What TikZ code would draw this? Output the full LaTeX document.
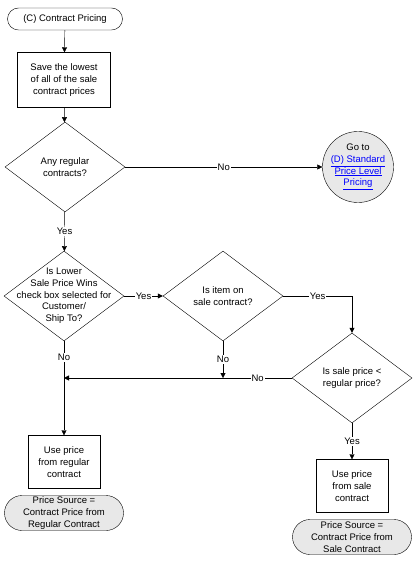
\documentclass[tikz,border=0pt]{standalone}
\usepackage{fontspec}
\setmainfont{Liberation Sans}
\usetikzlibrary{arrows.meta,shapes.geometric,shapes.misc}

\begin{document}
\begin{tikzpicture}[x=1pt, y=-1pt,
  every node/.style={font=\fontsize{9.5}{11.7}\selectfont},
  term/.style={draw, rounded rectangle, align=center, inner sep=0pt},
  srcbox/.style={term, fill=gray!18, minimum width=119pt, minimum height=35pt},
  proc/.style={draw, fill=white, align=center, inner sep=0pt},
  dec/.style={draw, diamond, inner sep=0pt, minimum width=120pt, minimum height=90pt},
  gotolink/.style={draw, circle, fill=gray!18, minimum size=71pt, inner sep=0pt, align=center},
  arr/.style={-{Triangle[length=5pt,width=5pt]}},
  lbl/.style={fill=white, inner sep=1pt}]
  %%%%% START %%%%%
  \useasboundingbox (0,0) rectangle (418,561);

  \node[term, minimum width=115pt, minimum height=22pt] (start) at (65,19) {(C) Contract Pricing};
  \node[proc, minimum width=93pt, minimum height=55pt] (savelowest) at (64,80)
    {Save the lowest\\of all of the sale\\contract prices};
  \node[dec, label={[align=center]center:Any regular\\contracts?}] (anyregular) at (65,167) {};
  \node[gotolink] (gotod) at (358,167)
    {Go to\\\textcolor{blue}{\underline{(D) Standard}}\\\textcolor{blue}{\underline{Price Level}}\\\textcolor{blue}{\underline{Pricing}}};

  \node[dec, label={[align=center]center:Is Lower\\Sale Price Wins\\check box selected for\\Customer/\\Ship To?}] (lowerwins) at (64,296) {};
  \node[dec, label={[align=center]center:Is item on\\sale contract?}] (onsale) at (223,296) {};
  \node[dec, label={[align=center]center:Is sale price <\\regular price?}] (salelower) at (352,378) {};

  \node[proc, minimum width=72pt, minimum height=53pt] (useregular) at (64,462) {Use price\\from regular\\contract};
  \node[srcbox] (srcregular) at (64,513) {Price Source =\\Contract Price from\\Regular Contract};
  \node[proc, minimum width=72pt, minimum height=53pt] (usesale) at (352,486) {Use price\\from sale\\contract};
  \node[srcbox] (srcsale) at (352,537) {Price Source =\\Contract Price from\\Sale Contract};

  \coordinate (joinsale) at (onsale.south |- salelower.west);
  \coordinate (joinregular) at (lowerwins.south |- salelower.west);

  %%%%% connectors %%%%%
  \draw[arr] (start) -- (savelowest);
  \draw[arr] (savelowest) -- (anyregular);
  \draw[arr] (anyregular) -- node[lbl]{No} (gotod);
  \draw[arr] (anyregular) -- node[lbl]{Yes} (lowerwins);
  \draw[arr] (lowerwins) -- node[lbl]{Yes} (onsale);
  \draw[arr] (onsale.east) -| node[lbl, pos=0.25]{Yes} (salelower.north);
  \draw[arr] (onsale) -- node[lbl]{No} (joinsale);
  \draw[arr] (salelower) -- node[lbl, pos=0.15]{No} (joinregular);
  \draw[arr] (lowerwins) -- node[lbl, pos=0.17]{No} (useregular);
  \draw[arr] (salelower) -- node[lbl]{Yes} (usesale);
  %%%%% END %%%%%
\end{tikzpicture}
\end{document}
